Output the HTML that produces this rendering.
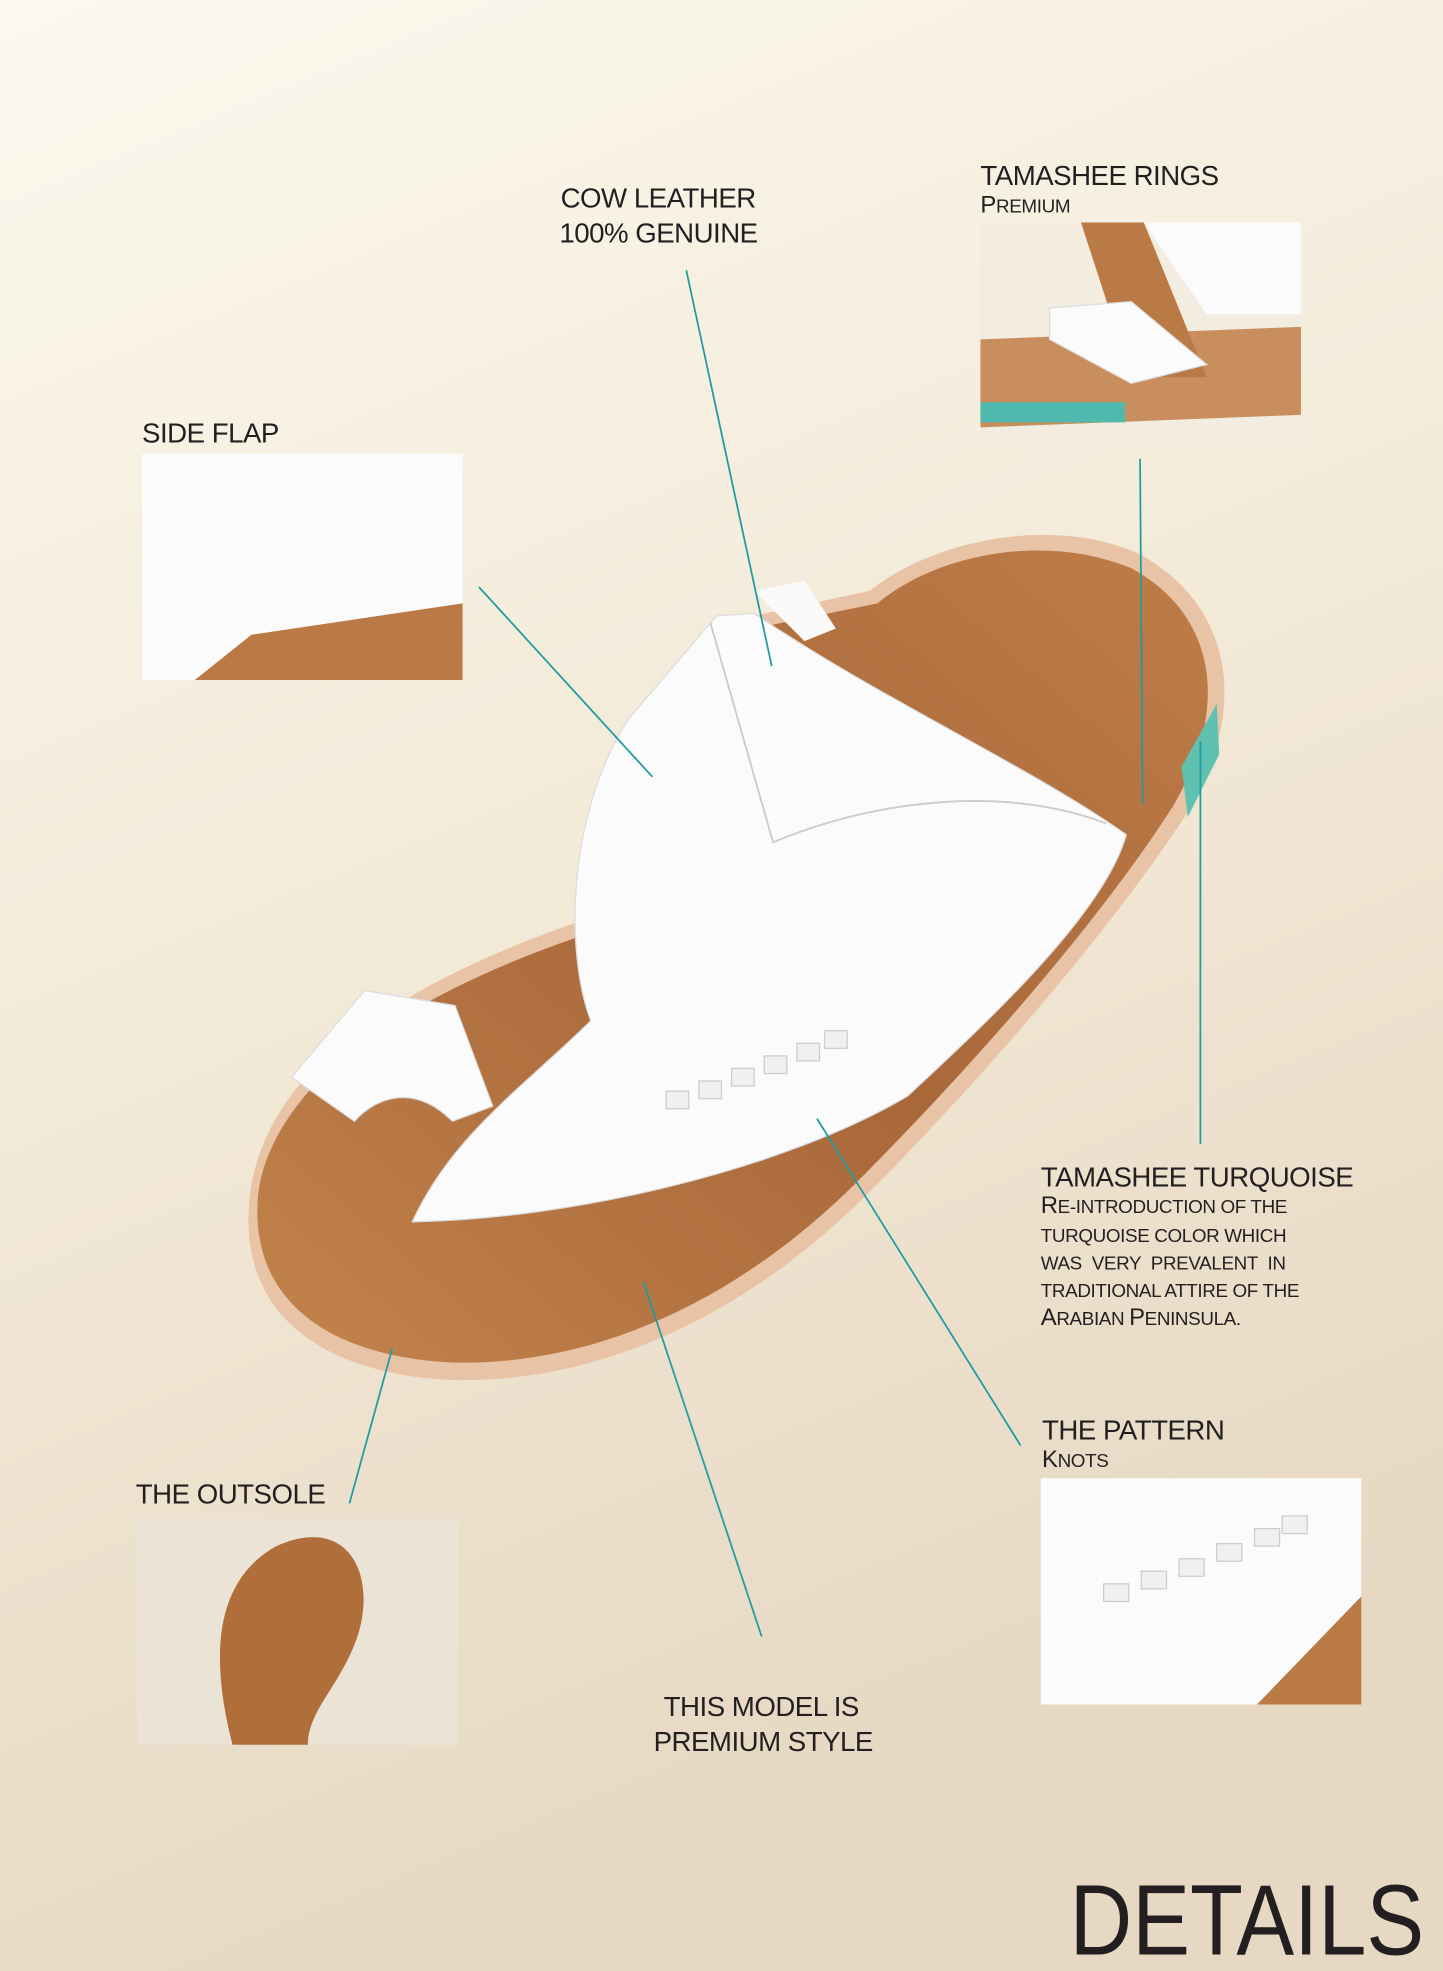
<!DOCTYPE html>
<html><head><meta charset="utf-8"><style>
html,body{margin:0;padding:0;}
body{width:1443px;height:1971px;overflow:hidden;}
svg{display:block}
text{font-family:"Liberation Sans",sans-serif;fill:#231f20}
</style></head><body>
<svg width="1443" height="1971" viewBox="0 0 1148 1568" preserveAspectRatio="none" xmlns="http://www.w3.org/2000/svg">
<defs>
<linearGradient id="bg" x1="0" y1="0" x2="0.3" y2="1">
<stop offset="0" stop-color="#fbf8ee"/><stop offset="0.5" stop-color="#f3ead8"/><stop offset="1" stop-color="#e6d8c3"/>
</linearGradient>
<linearGradient id="bed" x1="0" y1="1" x2="1" y2="0">
<stop offset="0" stop-color="#c3834c"/><stop offset="0.5" stop-color="#a8683a"/><stop offset="1" stop-color="#be7d48"/>
</linearGradient>
</defs>
<rect width="1148" height="1568" fill="url(#bg)"/>

<!-- sandal sole -->
<path d="M198,960 C192,1050 262,1094 362,1098 C485,1100 600,1040 690,950 C770,870 880,746 945,646 C995,562 980,480 905,440 C835,410 742,430 692,470 L600,490 L520,600 L470,730 C380,760 300,800 250,850 C220,880 200,920 198,960 Z" fill="#e9c3a6"/>
<path d="M205,955 C200,1038 266,1080 362,1084 C480,1086 592,1030 682,940 C762,860 872,738 934,640 C980,560 966,488 900,452 C832,424 746,440 698,480 L600,500 L520,610 L470,742 C385,770 305,810 258,855 C228,885 207,920 205,955 Z" fill="url(#bed)"/>
<path d="M940,610 L968,560 L970,600 L945,650 Z" fill="#5fc2b0"/>
<!-- upper -->
<path d="M570,490 L600,488 C700,556 820,610 896,664 C880,722 800,800 722,872 C620,932 452,970 328,972 C360,902 420,862 470,812 C450,760 450,650 500,572 Z" fill="#fbfbfb" stroke="#ddd" stroke-width="1"/>
<path d="M565,495 L615,670 C700,635 800,625 880,655" fill="none" stroke="#ccc" stroke-width="1.5"/>
<path d="M232,857 L290,788 L362,800 L392,880 L360,892 C330,862 300,872 282,892 Z" fill="#fbfbfb" stroke="#ddd"/>
<path d="M600,470 L640,462 L665,500 L640,510 Z" fill="#fafafa"/>
<g fill="#f0f0f0" stroke="#ccc"><rect x="530" y="868" width="18" height="14"/><rect x="556" y="860" width="18" height="14"/><rect x="582" y="850" width="18" height="14"/><rect x="608" y="840" width="18" height="14"/><rect x="634" y="830" width="18" height="14"/><rect x="656" y="820" width="18" height="14"/></g>

<!-- insets -->
<g>
<rect x="780" y="177" width="255" height="180" fill="#f2ede0"/>
<path d="M780,270 L1035,260 L1035,330 L780,340 Z" fill="#c98e5e"/>
<rect x="780" y="320" width="115" height="16" fill="#4fb9ad"/>
<path d="M860,177 L910,177 L960,300 L900,300 Z" fill="#b97a45"/>
<path d="M910,177 L1035,177 L1035,250 L960,250 Z" fill="#fbfbfb"/>
<path d="M835,245 L900,240 L960,290 L900,305 L835,270 Z" fill="#fbfbfb" stroke="#ddd"/>
</g>
<g>
<rect x="113" y="361" width="255" height="180" fill="#f5f1e6"/>
<path d="M113,361 L368,361 L368,480 L260,500 L160,541 L113,541 Z" fill="#fbfbfb"/>
<path d="M155,541 L200,505 L368,480 L368,541 Z" fill="#b97a45"/>
</g>
<g>
<rect x="828" y="1176" width="255" height="180" fill="#fbfbfb"/>
<path d="M1000,1356 L1083,1270 L1083,1356 Z" fill="#b97a45"/>
<g fill="#f0f0f0" stroke="#ccc"><rect x="878" y="1260" width="20" height="14"/><rect x="908" y="1250" width="20" height="14"/><rect x="938" y="1240" width="20" height="14"/><rect x="968" y="1228" width="20" height="14"/><rect x="998" y="1216" width="20" height="14"/><rect x="1020" y="1206" width="20" height="14"/></g>
</g>
<g>
<rect x="109" y="1208" width="255" height="180" fill="#ebe4d6"/>
<path d="M185,1388 C170,1330 165,1260 220,1230 C275,1205 300,1250 285,1300 C272,1340 245,1360 245,1388 Z" fill="#b06e3b"/>
</g>

<!-- lines -->
<g stroke="#1f9ca1" stroke-width="1.4" fill="none">
<line x1="546" y1="215" x2="614" y2="530"/>
<line x1="381" y1="467" x2="519" y2="618"/>
<line x1="907" y1="365" x2="909" y2="640"/>
<line x1="955" y1="590" x2="955" y2="910"/>
<line x1="650" y1="890" x2="812" y2="1150"/>
<line x1="512" y1="1020" x2="606" y2="1302"/>
<line x1="312" y1="1073" x2="278" y2="1196"/>
</g>

<!-- labels -->
<g font-size="22" letter-spacing="-0.4">
<text x="446" y="165">COW LEATHER</text>
<text x="445" y="193">100% GENUINE</text>
<text x="780" y="147">TAMASHEE RINGS</text>
<text x="113" y="352">SIDE FLAP</text>
<text x="828" y="944">TAMASHEE TURQUOISE</text>
<text x="829" y="1145">THE PATTERN</text>
<text x="108" y="1196">THE OUTSOLE</text>
<text x="528" y="1365">THIS MODEL IS</text>
<text x="520" y="1393">PREMIUM STYLE</text>
</g>
<g font-size="19" letter-spacing="-0.3">
<text x="780" y="169">P<tspan font-size="15">REMIUM</tspan></text>
<text x="829" y="1167">K<tspan font-size="15">NOTS</tspan></text>
<text x="828" y="965">R<tspan font-size="15">E-INTRODUCTION OF THE</tspan></text>
<text x="828" y="988" font-size="15">TURQUOISE COLOR WHICH</text>
<text x="828" y="1010" font-size="15" word-spacing="4">WAS VERY PREVALENT IN</text>
<text x="828" y="1032" font-size="15">TRADITIONAL ATTIRE OF THE</text>
<text x="828" y="1054">A<tspan font-size="15">RABIAN </tspan>P<tspan font-size="15">ENINSULA.</tspan></text>
</g>
<text x="851" y="1555" font-size="80" textLength="282" lengthAdjust="spacingAndGlyphs">DETAILS</text>
</svg>
</body></html>
